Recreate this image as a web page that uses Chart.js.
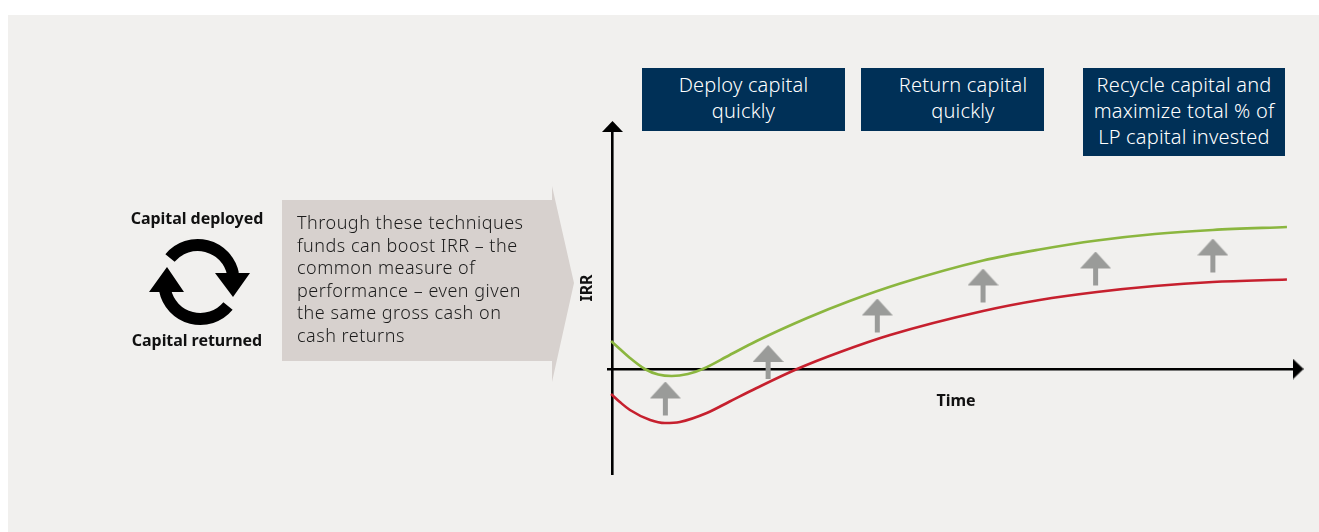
<!DOCTYPE html>
<html><head><meta charset="utf-8">
<script src="https://cdn.jsdelivr.net/npm/chart.js@4/dist/chart.umd.min.js"></script>
<style>
html,body{margin:0;padding:0;background:#fff;width:1319px;height:532px;overflow:hidden}
#panel{position:absolute;left:8px;top:15px;width:1311px;height:517px;background:#f1f0ee}
#wrap{position:absolute;left:0;top:0;width:1319px;height:532px}
.t{position:absolute;font-family:"Noto Sans",sans-serif;white-space:nowrap}
.box{position:absolute;background:#003057;color:#fff;font:300 20px/26px "Noto Sans",sans-serif;text-align:center;letter-spacing:.2px;padding-top:4px;box-sizing:border-box}
.lab{font-weight:700;font-size:16px;line-height:18px;color:#111;text-align:center;letter-spacing:-.05px}
#chev{position:absolute;left:282px;top:186px;width:292px;height:196px;background:#d7d1ce;clip-path:polygon(0 14px,270px 14px,270px 0,292px 97px,270px 196px,270px 175px,0 175px)}
#msg{left:297px;top:211px;font-size:18px;font-weight:300;line-height:22.5px;color:#1c1c1c;letter-spacing:.5px}
svg{position:absolute;left:0;top:0}
</style></head>
<body>
<div id="panel"></div>
<div id="chev"></div>
<div id="wrap"><canvas id="c" width="1319" height="532"></canvas></div>
<svg width="1319" height="532" style="pointer-events:none">
<g fill="none" stroke="#000" stroke-width="12">
<path d="M170 258 A36 36 0 0 1 233 274"/>
<path d="M228 306 A36 36 0 0 1 165 290"/>
</g>
<path d="M215 273 L250 273 L233 297 Z M149 292 L184 292 L167 267 Z" fill="#000"/>
</svg>
<div class="t lab" style="left:97px;top:209px;width:200px">Capital deployed</div>
<div class="t lab" style="left:97px;top:331px;width:200px">Capital returned</div>
<div class="t" id="msg">Through these techniques<br>funds can boost IRR – the<br>common measure of<br>performance – even given<br>the same gross cash on<br>cash returns</div>
<div class="box" style="left:642px;top:68px;width:203px;height:63px">Deploy capital<br>quickly</div>
<div class="box" style="left:861px;top:68px;width:183px;height:63px;padding-left:21px">Return capital<br>quickly</div>
<div class="box" style="left:1083px;top:68px;width:202px;height:88px">Recycle capital and<br>maximize total % of<br>LP capital invested</div>
<div class="t lab" style="left:906px;top:391px;width:100px">Time</div>
<div class="t lab" style="left:536px;top:279px;width:100px;transform:rotate(-90deg)">IRR</div>
<script>
const timeGreen=[-0.2,1.1,2.6,4.8,6.8,8.8,11.2,13.4,17.4,21.4,28.9,35.2,42.7,55,63.4,71.9,80.5,89.1,100.1];
const irrGreen=[2.8,2.0,1.1,0,-0.55,-0.7,-0.5,0,1.4,2.8,5.1,6.8,8.55,10.85,11.95,12.85,13.5,13.9,14.2];
const timeRed=[-0.2,1.1,2.6,5.6,7.8,10,14,17.4,21.4,27.4,33.8,41.2,55,63.4,71.9,80.5,89.1,100.1];
const irrRed=[-2.5,-3.3,-4.1,-5.1,-5.4,-5.3,-4.4,-3.25,-1.9,0,1.7,3.4,5.8,6.9,7.7,8.3,8.7,8.95];
const timeUplift=[7.85,23.1,39.3,55,71.7,89.1];
const irrUplift=[-3.0,0.65,5.3,8.3,10,11.3];

function shape(w,h,fill,pts){
  const k=document.createElement('canvas');k.width=w;k.height=h;
  const g=k.getContext('2d');g.fillStyle=fill;g.beginPath();
  pts.forEach((p,i)=>i?g.lineTo(p[0],p[1]):g.moveTo(p[0],p[1]));g.closePath();g.fill();return k;
}
const upArrow=shape(31,35,'#9a9b99',[[15.5,0],[31,17],[18,17],[18,34],[13,34],[13,17],[0,17]]);
const headUp=shape(21,11,'#000',[[10.5,0],[21,11],[0,11]]);
const headRight=shape(11,21,'#000',[[0,0],[11,10.5],[0,21]]);
const pairs=(a,b)=>a.map((v,i)=>({x:v,y:b[i]}));
const curve={type:'line',borderWidth:2.6,pointRadius:0,cubicInterpolationMode:'monotone',fill:false,clip:false};

new Chart(document.getElementById('c'),{
  type:'line',
  data:{datasets:[
    {...curve,label:'Boosted IRR',data:pairs(timeGreen,irrGreen),borderColor:'#8bb63f'},
    {...curve,label:'Base IRR',data:pairs(timeRed,irrRed),borderColor:'#c6202e'},
    {label:'Uplift',showLine:false,data:pairs(timeUplift,irrUplift),pointStyle:upArrow,clip:false,order:5},
    {label:'Axis ends',showLine:false,data:[{x:0,y:24.25}],pointStyle:headUp,pointRadius:20,clip:false},
    {label:'Axis ends 2',showLine:false,data:[{x:101.75,y:0}],pointStyle:headRight,pointRadius:20,clip:false}
  ]},
  options:{
    responsive:false,animation:false,
    layout:{padding:{left:608,right:26,top:132,bottom:58}},
    plugins:{legend:{display:false},tooltip:{enabled:false}},
    scales:{
      x:{type:'linear',min:-0.66,max:101,position:{y:0},grid:{display:false,drawTicks:false},ticks:{display:false},
         border:{display:true,color:'#000',width:2.6}},
      y:{type:'linear',min:-10.5,max:23.7,position:{x:0},grid:{display:false,drawTicks:false},ticks:{display:false},
         border:{display:true,color:'#000',width:2.6}}
    }
  }
});
</script>
</body></html>
